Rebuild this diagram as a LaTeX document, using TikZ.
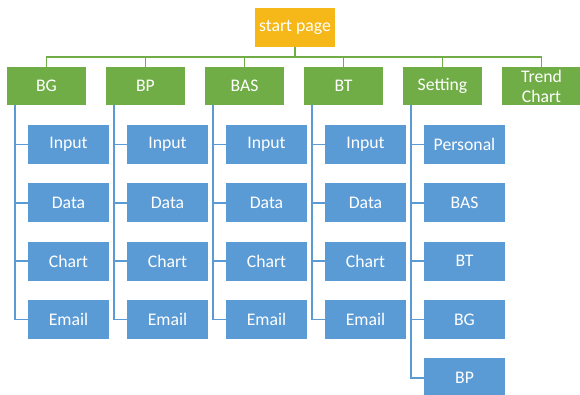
\documentclass[tikz,border=0pt]{standalone}
\usepackage{fontspec}
\setmainfont{Carlito}
\usetikzlibrary{calc}
\definecolor{gold}{HTML}{F5B818}
\definecolor{ogreen}{HTML}{70AD47}
\definecolor{oblue}{HTML}{5B9BD5}
\tikzset{
  base/.style={inner sep=0pt, text=white, font=\fontsize{17.7}{20}\selectfont, align=center},
  startbox/.style={base, fill=gold, minimum width=80pt, minimum height=39pt},
  catbox/.style={base, fill=ogreen, minimum width=79pt, minimum height=38pt},
  itembox/.style={base, fill=oblue, minimum width=81pt, minimum height=39pt},
  gline/.style={draw=ogreen, line width=1.5pt},
  bline/.style={draw=oblue, line width=1.5pt},
}
\begin{document}
\begin{tikzpicture}[x=1pt,y=-1pt]
\clip (0,0) rectangle (580,395);
\useasboundingbox (0,0) rectangle (580,395);
\node[startbox] (start) at (295,27.5) {start page};
\node[catbox] (g1) at (46.5,86) {BG};
\node[catbox] (g2) at (145.5,86) {BP};
\node[catbox] (g3) at (244.5,86) {BAS};
\node[catbox] (g4) at (343.5,86) {BT};
\node[catbox] (g5) at (442.5,86) {Setting};
\node[catbox] (g6) at (541.5,86) {Trend\\Chart};
\coordinate (bar) at ($(start.south)+(0,10)$);
\foreach \g in {g1,g2,g3,g4,g5,g6}{
  \draw[gline] (start.south) -- (bar) -| (\g.north);
}
% item columns
\foreach \k/\g in {0/g1,1/g2,2/g3,3/g4}{
  \node[itembox] (\g a) at (68.5+99*\k,144.5) {Input};
  \node[itembox] (\g b) at (68.5+99*\k,202.8) {Data};
  \node[itembox] (\g c) at (68.5+99*\k,261.2) {Chart};
  \node[itembox] (\g d) at (68.5+99*\k,319.5) {Email};
  \coordinate (\g t) at ($(\g.south west)+(8,0)$);
  \foreach \i in {a,b,c,d}{
    \draw[bline] (\g t) |- (\g\i.west);
  }
}
\node[itembox] (g5a) at (464.5,144.5) {Personal};
\node[itembox] (g5b) at (464.5,202.8) {BAS};
\node[itembox] (g5c) at (464.5,261.2) {BT};
\node[itembox] (g5d) at (464.5,319.5) {BG};
\node[itembox] (g5e) at (464.5,377.8) {BP};
\coordinate (g5t) at ($(g5.south west)+(8,0)$);
\foreach \i in {a,b,c,d,e}{
  \draw[bline] (g5t) |- (g5\i.west);
}
\end{tikzpicture}
\end{document}
